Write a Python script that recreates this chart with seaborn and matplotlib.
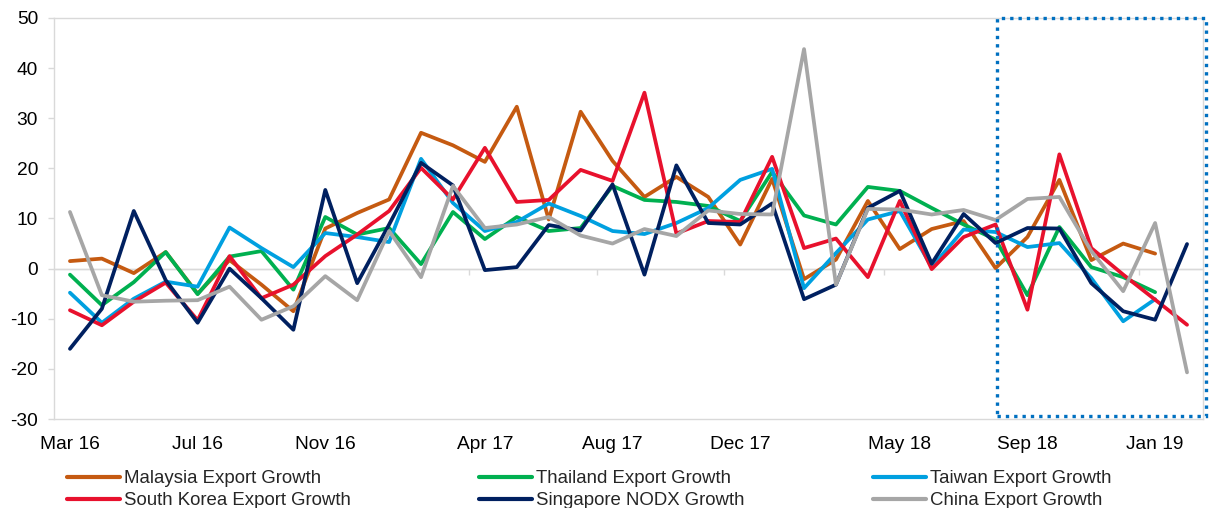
import numpy as np
import pandas as pd
import matplotlib
matplotlib.use("Agg")
import matplotlib.pyplot as plt
from matplotlib.patches import Rectangle
from matplotlib.lines import Line2D
import seaborn as sns

# ---------------- data ----------------
months = pd.date_range("2016-03-01", "2019-02-01", freq="MS")
month_labels = [d.strftime("%b %y") for d in months]

tick_labels = ["Mar 16", "Jul 16", "Nov 16", "Apr 17", "Aug 17",
               "Dec 17", "May 18", "Sep 18", "Jan 19"]

malaysia = [1.5, 2.0, -0.9, 3.3, -5.0, 1.7, -3.2, -8.5, 8.0, 11.1, 13.8, 27.1,
            24.6, 21.3, 32.3, 9.8, 31.3, 21.5, 14.3, 18.3, 14.3, 4.8, 17.9, -2.1,
            1.8, 13.5, 3.9, 7.9, 9.5, 0.1, 6.3, 17.7, 1.7, 5.0, 3.0, np.nan]
thailand = [-1.2, -7.3, -2.7, 3.3, -5.1, 2.4, 3.5, -4.2, 10.3, 6.8, 8.1, 0.9,
            11.3, 5.9, 10.3, 7.5, 8.1, 16.5, 13.7, 13.3, 12.5, 9.5, 19.3, 10.6,
            8.8, 16.3, 15.5, 12.1, 8.8, 5.8, -5.3, 8.3, 0.3, -1.7, -4.7, np.nan]
taiwan = [-4.8, -10.8, -6.0, -2.6, -3.6, 8.2, 4.1, 0.3, 7.1, 6.3, 5.3, 21.9,
          13.1, 7.5, 9.3, 13.0, 10.5, 7.5, 6.9, 9.1, 12.1, 17.7, 19.9, -3.9,
          3.1, 9.8, 11.5, 0.3, 7.8, 7.3, 4.3, 5.1, -1.9, -10.5, -6.1, np.nan]
south_korea = [-8.3, -11.3, -6.6, -2.8, -10.3, 2.5, -5.9, -3.2, 2.5, 6.8, 11.5, 20.1,
               13.8, 24.1, 13.3, 13.7, 19.7, 17.5, 35.1, 7.0, 9.5, 9.3, 22.3, 4.1,
               6.0, -1.7, 13.5, -0.1, 6.3, 8.8, -8.2, 22.8, 4.1, -1.2, -6.2, -11.2]
singapore = [-16.0, -8.0, 11.5, -2.3, -10.8, 0.0, -5.9, -12.2, 15.7, -2.9, 8.8, 21.1,
             16.6, -0.3, 0.3, 8.7, 7.6, 16.8, -1.2, 20.6, 9.1, 8.8, 13.0, -6.1,
             -3.2, 12.1, 15.5, 1.0, 10.9, 5.1, 8.1, 8.0, -2.9, -8.5, -10.2, 4.9]
china = [11.3, -5.3, -6.6, -6.4, -6.3, -3.6, -10.2, -7.5, -1.5, -6.3, 7.5, -1.7,
         16.5, 8.1, 8.8, 10.3, 6.6, 5.0, 7.9, 6.5, 11.6, 10.9, 10.8, 43.8,
         -3.2, 11.9, 11.8, 10.8, 11.7, 9.7, 13.9, 14.3, 3.5, -4.5, 9.1, -20.7]

series_names = ["Malaysia Export Growth", "Thailand Export Growth", "Taiwan Export Growth",
                "South Korea Export Growth", "Singapore NODX Growth", "China Export Growth"]
series_values = [malaysia, thailand, taiwan, south_korea, singapore, china]
colors = ["#C55A11", "#00B050", "#00A0E0", "#E8112D", "#002060", "#A6A6A6"]

# long-form table
frames = []
for name, vals in zip(series_names, series_values):
    frames.append(pd.DataFrame({"idx": np.arange(len(months)), "month": month_labels,
                                "value": vals, "series": name}))
df = pd.concat(frames, ignore_index=True).dropna()

# ---------------- plot ----------------
sns.set_theme(style="white")
plt.rcParams["font.family"] = ["Liberation Sans", "DejaVu Sans"]
plt.rcParams["axes.unicode_minus"] = False

fig = plt.figure(figsize=(12.09, 5.08), dpi=100)
ax = fig.add_axes([54 / 1209, 1 - 419 / 508, (1203 - 54) / 1209, (419 - 18) / 508])

grey = "#D9D9D9"
ax.axhline(0, color=grey, linewidth=1.0, zorder=0.5)

sns.lineplot(data=df, x="idx", y="value", hue="series", hue_order=series_names,
             palette=dict(zip(series_names, colors)), linewidth=2.7,
             sort=False, estimator=None, legend=False, ax=ax)

ax.set_xlim(-0.5, len(months) - 0.5)
ax.set_ylim(-30, 50)
ax.set_yticks(np.arange(-30, 51, 10))
ax.set_xlabel("")
ax.set_ylabel("")

tick_pos = [month_labels.index(t) for t in tick_labels]
ax.set_xticks(tick_pos)
ax.set_xticklabels(tick_labels)

for sp in ax.spines.values():
    sp.set_color(grey)
    sp.set_linewidth(1.0)
ax.tick_params(axis="y", which="major", left=True, length=4.5, width=1, color=grey,
               labelsize=13.8, pad=7, labelcolor="#000000")
ax.tick_params(axis="x", which="major", bottom=False, labelsize=13.8, pad=6,
               labelcolor="#000000")
ax.grid(False)

# zero axis ticks at category boundaries
sec = ax.secondary_xaxis(30 / 80)
sec.set_xticks([p - 0.5 for p in tick_pos[1:]])
sec.set_xticklabels([])
sec.tick_params(axis="x", direction="out", length=4.5, width=1, color=grey)
for sp in sec.spines.values():
    sp.set_color(grey)
    sp.set_linewidth(1.0)

# highlight box
ax.add_patch(Rectangle((0.8207, 0.0075), 1.0026 - 0.8207, 0.9925, transform=ax.transAxes,
                       fill=False, edgecolor="#0070C0", linewidth=2.4,
                       linestyle=(0, (1, 1.5)), clip_on=False, zorder=5))

# legend (row-wise order as in reference)
handles = [Line2D([], [], color=c, linewidth=3.0) for c in colors]
order = [0, 3, 1, 4, 2, 5]
fig.legend([handles[i] for i in order], [series_names[i] for i in order],
           loc="upper left", bbox_to_anchor=(67 / 1209, 1 - 470 / 508), ncol=3,
           frameon=False, fontsize=13.4, handlelength=2.85, handletextpad=0.2,
           columnspacing=6.9, labelspacing=0.28, borderpad=0, borderaxespad=0)

fig.savefig("out.png", dpi=100)
